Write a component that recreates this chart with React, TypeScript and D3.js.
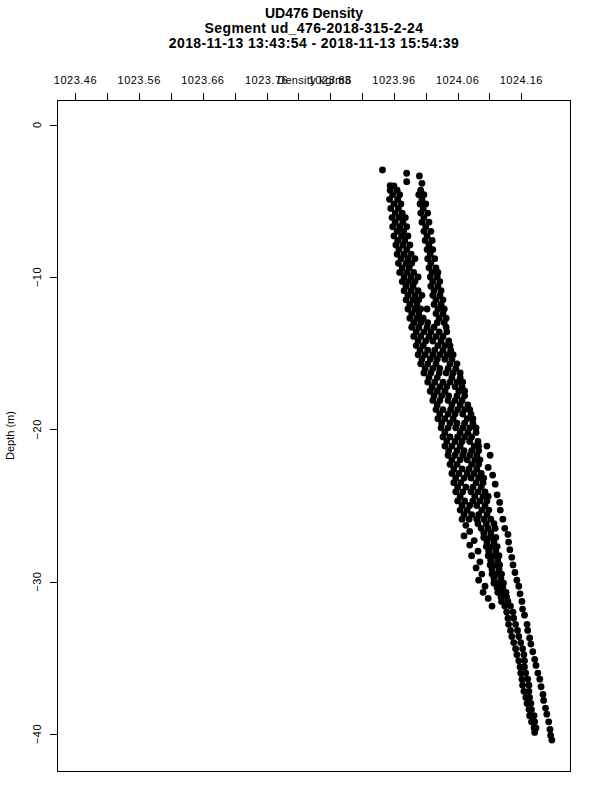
import React, { useEffect, useRef } from 'react'
import * as d3 from 'd3'

const titleLines = [
  'UD476 Density',
  'Segment ud_476-2018-315-2-24',
  '2018-11-13 13:43:54 - 2018-11-13 15:54:39',
]
const xAxisTitle = 'Density kg/m3'
const yAxisTitle = 'Depth (m)'

const xTickValues = [1023.46, 1023.51, 1023.56, 1023.61, 1023.66, 1023.71, 1023.76, 1023.81,
  1023.86, 1023.91, 1023.96, 1024.01, 1024.06, 1024.11, 1024.16]
const xLabelValues = [1023.46, 1023.56, 1023.66, 1023.76, 1023.86, 1023.96, 1024.06, 1024.16]
const yTickValues = [0, -10, -20, -30, -40]

// [depth, density]
const topPoints = [
  [-2.97, 1023.942], [-3.19, 1023.980], [-3.37, 1024.000], [-3.74, 1023.980],
  [-3.85, 1024.004], [-4.0, 1023.954], [-4.02, 1023.960],
]

// [depth, density, density, ...]
const upperRows = [
  [-4.3, 1023.954, 1023.965, 1024.002],
  [-4.6, 1023.958, 1023.969, 1023.999, 1024.007],
  [-4.9, 1023.953, 1023.966, 1024.004],
  [-5.2, 1023.960, 1023.971, 1024.001, 1024.010],
  [-5.5, 1023.955, 1023.967, 1024.006],
  [-5.8, 1023.962, 1023.973, 1024.002, 1024.013],
  [-6.1, 1023.957, 1023.968, 1023.978, 1024.007],
  [-6.4, 1023.962, 1023.974, 1024.004, 1024.015],
  [-6.7, 1023.958, 1023.969, 1023.980, 1024.010],
  [-7.0, 1023.965, 1023.975, 1024.007, 1024.018],
  [-7.3, 1023.960, 1023.972, 1023.982, 1024.012],
  [-7.6, 1023.966, 1023.977, 1024.009, 1024.020],
  [-7.9, 1023.963, 1023.974, 1023.985, 1024.015],
  [-8.2, 1023.968, 1023.980, 1024.012, 1024.021],
  [-8.5, 1023.965, 1023.976, 1023.987, 1024.017],
  [-8.8, 1023.971, 1023.982, 1023.993, 1024.013, 1024.024],
  [-9.1, 1023.967, 1023.979, 1023.988, 1024.018],
  [-9.4, 1023.973, 1023.984, 1024.015, 1024.026],
  [-9.7, 1023.969, 1023.980, 1023.991, 1024.020, 1024.029],
  [-10.0, 1023.976, 1023.987, 1023.998, 1024.017, 1024.028],
  [-10.3, 1023.973, 1023.983, 1023.993, 1024.021, 1024.032],
  [-10.6, 1023.979, 1023.990, 1024.018, 1024.029],
  [-10.9, 1023.976, 1023.987, 1023.998, 1024.023, 1024.034],
  [-11.2, 1023.982, 1023.993, 1024.004, 1024.021, 1024.032],
  [-11.5, 1023.979, 1023.990, 1023.999, 1024.026, 1024.037],
  [-11.8, 1023.985, 1023.996, 1024.023, 1024.034],
  [-12.1, 1023.982, 1023.993, 1024.002, 1024.012, 1024.029, 1024.039],
  [-12.4, 1023.988, 1023.999, 1024.026, 1024.037],
  [-12.7, 1023.985, 1023.996, 1024.006, 1024.031, 1024.042],
  [-13.0, 1023.991, 1024.002, 1024.013, 1024.028, 1024.039],
]

const middleRows = [
  [-13.3, 1023.988, 1023.999, 1024.012, 1024.023, 1024.042],
  [-13.6, 1023.995, 1024.007, 1024.018, 1024.031, 1024.043],
  [-13.9, 1023.991, 1024.002, 1024.015, 1024.026, 1024.037],
  [-14.2, 1023.998, 1024.010, 1024.021, 1024.034, 1024.046],
  [-14.5, 1023.995, 1024.006, 1024.029, 1024.040, 1024.048],
  [-14.8, 1024.001, 1024.013, 1024.024, 1024.037, 1024.049],
  [-15.1, 1023.998, 1024.009, 1024.021, 1024.032, 1024.043, 1024.053],
  [-15.4, 1024.004, 1024.017, 1024.028, 1024.040, 1024.051],
  [-15.7, 1024.002, 1024.013, 1024.026, 1024.048, 1024.059],
  [-16.0, 1024.009, 1024.021, 1024.032, 1024.045, 1024.057],
  [-16.3, 1024.007, 1024.018, 1024.031, 1024.042, 1024.053, 1024.064],
  [-16.6, 1024.015, 1024.028, 1024.051, 1024.064],
  [-16.9, 1024.013, 1024.024, 1024.037, 1024.048, 1024.059, 1024.068],
  [-17.2, 1024.020, 1024.032, 1024.043, 1024.056, 1024.067],
  [-17.5, 1024.017, 1024.028, 1024.040, 1024.062, 1024.071],
  [-17.8, 1024.023, 1024.035, 1024.046, 1024.059, 1024.071],
  [-18.1, 1024.021, 1024.032, 1024.045, 1024.056, 1024.067],
  [-18.4, 1024.028, 1024.051, 1024.064, 1024.076],
  [-18.7, 1024.026, 1024.037, 1024.049, 1024.060, 1024.071, 1024.079],
  [-19.0, 1024.032, 1024.045, 1024.056, 1024.068, 1024.081],
  [-19.3, 1024.029, 1024.040, 1024.053, 1024.075, 1024.084],
  [-19.6, 1024.035, 1024.048, 1024.059, 1024.071, 1024.084],
  [-19.9, 1024.034, 1024.045, 1024.057, 1024.068, 1024.079, 1024.089],
  [-20.2, 1024.040, 1024.064, 1024.076, 1024.089],
  [-20.5, 1024.037, 1024.048, 1024.060, 1024.071, 1024.082],
  [-20.8, 1024.043, 1024.056, 1024.067, 1024.079, 1024.092],
  [-21.1, 1024.040, 1024.051, 1024.064, 1024.086, 1024.093],
  [-21.4, 1024.046, 1024.059, 1024.070, 1024.082, 1024.093],
  [-21.7, 1024.045, 1024.056, 1024.068, 1024.079, 1024.090],
  [-22.0, 1024.051, 1024.064, 1024.075, 1024.087, 1024.095],
  [-22.3, 1024.048, 1024.059, 1024.082, 1024.093],
  [-22.6, 1024.054, 1024.067, 1024.078, 1024.090],
  [-22.9, 1024.051, 1024.062, 1024.075, 1024.086, 1024.097],
  [-23.2, 1024.057, 1024.070, 1024.081, 1024.093, 1024.101],
  [-23.5, 1024.054, 1024.065, 1024.089, 1024.100],
  [-23.8, 1024.060, 1024.073, 1024.084, 1024.097],
  [-24.1, 1024.057, 1024.068, 1024.081, 1024.092, 1024.103],
  [-24.4, 1024.064, 1024.087, 1024.100, 1024.108],
  [-24.7, 1024.060, 1024.071, 1024.084, 1024.095, 1024.106],
  [-25.0, 1024.067, 1024.079, 1024.090, 1024.103],
  [-25.3, 1024.064, 1024.075, 1024.098, 1024.109],
  [-25.6, 1024.070, 1024.082, 1024.093, 1024.106],
  [-25.9, 1024.067, 1024.078, 1024.090, 1024.101, 1024.112],
]

const lowerRows = [
  [-26.2, 1024.092, 1024.105, 1024.117],
  [-26.5, 1024.097, 1024.108, 1024.119],
  [-26.8, 1024.101, 1024.112],
  [-27.1, 1024.101, 1024.111, 1024.120],
  [-27.4, 1024.106, 1024.117],
  [-27.7, 1024.105, 1024.114, 1024.122],
  [-28.0, 1024.109, 1024.120],
  [-28.3, 1024.108, 1024.117, 1024.125],
  [-28.6, 1024.112, 1024.123],
  [-28.9, 1024.111, 1024.119, 1024.126],
  [-29.2, 1024.114, 1024.125],
  [-29.5, 1024.114, 1024.122, 1024.129],
  [-29.8, 1024.117, 1024.128],
  [-30.1, 1024.117, 1024.125, 1024.132],
  [-30.4, 1024.122, 1024.131],
  [-30.7, 1024.123, 1024.131, 1024.136],
  [-31.0, 1024.128, 1024.137],
  [-31.3, 1024.129, 1024.139],
]

const scatterLeft = [
  [-26.3, 1024.073], [-26.7, 1024.079], [-27.0, 1024.070], [-27.3, 1024.086],
  [-27.6, 1024.079], [-28.0, 1024.092], [-28.3, 1024.082], [-28.7, 1024.095],
  [-29.1, 1024.089], [-29.5, 1024.098], [-29.9, 1024.093], [-30.3, 1024.103],
  [-30.7, 1024.100], [-31.1, 1024.108], [-31.6, 1024.114],
]

const bottomRows = [
  [-31.6, 1024.134, 1024.143],
  [-32.0, 1024.137, 1024.147],
  [-32.4, 1024.139, 1024.148],
  [-32.8, 1024.140, 1024.151],
  [-33.2, 1024.143, 1024.154],
  [-33.6, 1024.145, 1024.156],
  [-34.0, 1024.148, 1024.159],
  [-34.4, 1024.151, 1024.162],
  [-34.8, 1024.153, 1024.164],
  [-35.2, 1024.156, 1024.165],
  [-35.6, 1024.158, 1024.165],
  [-36.0, 1024.159, 1024.167],
  [-36.4, 1024.161, 1024.170],
  [-36.8, 1024.162, 1024.172],
  [-37.2, 1024.164, 1024.172],
  [-37.6, 1024.167, 1024.173],
  [-38.0, 1024.169, 1024.175],
  [-38.4, 1024.172, 1024.176],
  [-38.8, 1024.173, 1024.180],
  [-39.2, 1024.176, 1024.181],
  [-39.6, 1024.180, 1024.183],
  [-39.9, 1024.181],
]

const outerTrace = [
  [-21.1, 1024.106], [-21.7, 1024.111], [-22.5, 1024.108], [-23.0, 1024.115],
  [-23.6, 1024.119], [-24.3, 1024.122], [-24.8, 1024.126], [-25.3, 1024.127],
  [-25.9, 1024.131], [-26.5, 1024.134], [-26.9, 1024.139], [-27.4, 1024.140],
  [-27.9, 1024.142], [-28.4, 1024.145], [-28.9, 1024.147], [-29.4, 1024.150],
  [-29.9, 1024.153], [-30.3, 1024.156], [-30.8, 1024.158], [-31.3, 1024.161],
  [-31.8, 1024.162], [-32.2, 1024.165], [-32.8, 1024.169], [-33.2, 1024.170],
  [-33.7, 1024.173], [-34.1, 1024.175], [-34.6, 1024.178], [-35.1, 1024.181],
  [-35.5, 1024.183], [-36.0, 1024.186], [-36.4, 1024.189], [-36.9, 1024.191],
  [-37.4, 1024.194], [-37.8, 1024.195], [-38.3, 1024.198], [-38.7, 1024.200],
  [-39.2, 1024.203], [-39.7, 1024.205], [-40.1, 1024.206], [-40.4, 1024.208],
]

function rowsToPoints(rows) {
  return rows.flatMap(r => r.slice(1).map(v => [r[0], v]))
}

export default function App() {
  const ref = useRef<SVGSVGElement>(null)

  useEffect(() => {
    const svg = d3.select(ref.current)
    svg.selectAll('*').remove()

    const font = '"Liberation Sans", Arial, Helvetica, sans-serif'
    const left = 57, right = 571, top = 100, bottom = 771

    const x = d3.scaleLinear().domain([1023.431, 1024.238]).range([left, right])
    const y = d3.scaleLinear().domain([1.62, -42.43]).range([top, bottom])

    svg.append('rect').attr('width', 600).attr('height', 800).attr('fill', '#fff')

    // titles
    const titleY = [18, 33, 48]
    svg.selectAll('text.title')
      .data(titleLines)
      .enter()
      .append('text')
      .attr('class', 'title')
      .attr('x', 314)
      .attr('y', (d, i) => titleY[i])
      .attr('text-anchor', 'middle')
      .attr('font-family', font)
      .attr('font-weight', 'bold')
      .attr('font-size', 14)
      .attr('letter-spacing', (d, i) => (i === 0 ? 0 : 0.4))
      .text(d => d)

    // points
    const points = [
      ...topPoints,
      ...rowsToPoints(upperRows),
      ...rowsToPoints(middleRows),
      ...rowsToPoints(lowerRows),
      ...scatterLeft,
      ...rowsToPoints(bottomRows),
      ...outerTrace,
    ]
    svg.append('g')
      .selectAll('circle')
      .data(points)
      .enter()
      .append('circle')
      .attr('cx', d => x(d[1]))
      .attr('cy', d => y(d[0]))
      .attr('r', 3.4)
      .attr('fill', '#000')

    // box
    svg.append('rect')
      .attr('x', left + 0.5)
      .attr('y', top + 0.5)
      .attr('width', right - left - 1)
      .attr('height', bottom - top)
      .attr('fill', 'none')
      .attr('stroke', '#000')
      .attr('stroke-width', 1)

    // top axis
    const xa = svg.append('g')
    xa.selectAll('line')
      .data(xTickValues)
      .enter()
      .append('line')
      .attr('x1', d => Math.round(x(d)) + 0.5)
      .attr('x2', d => Math.round(x(d)) + 0.5)
      .attr('y1', top)
      .attr('y2', top - 7)
      .attr('stroke', '#000')
    xa.selectAll('text')
      .data(xLabelValues)
      .enter()
      .append('text')
      .attr('x', d => x(d))
      .attr('y', 84)
      .attr('text-anchor', 'middle')
      .attr('font-family', font)
      .attr('font-size', 11)
      .attr('letter-spacing', 0.5)
      .text(d => d3.format('.2f')(d))
    svg.append('text')
      .attr('x', (left + right) / 2)
      .attr('y', 84)
      .attr('text-anchor', 'middle')
      .attr('font-family', font)
      .attr('font-size', 11)
      .attr('letter-spacing', 0.3)
      .text(xAxisTitle)

    // left axis
    const ya = svg.append('g')
    ya.selectAll('line')
      .data(yTickValues)
      .enter()
      .append('line')
      .attr('x1', left)
      .attr('x2', left - 7)
      .attr('y1', d => Math.round(y(d)) + 0.5)
      .attr('y2', d => Math.round(y(d)) + 0.5)
      .attr('stroke', '#000')
    ya.selectAll('text')
      .data(yTickValues)
      .enter()
      .append('text')
      .attr('transform', d => 'translate(41,' + y(d) + ') rotate(-90)')
      .attr('text-anchor', 'middle')
      .attr('font-family', font)
      .attr('font-size', 11)
      .attr('letter-spacing', 0.5)
      .text(d => d3.format('d')(d))
    svg.append('text')
      .attr('transform', 'translate(14,' + (top + bottom) / 2 + ') rotate(-90)')
      .attr('text-anchor', 'middle')
      .attr('font-family', font)
      .attr('font-size', 11)
      .text(yAxisTitle)
  }, [])

  return (
    <svg ref={ref} width={600} height={800}
      style={{ position: 'absolute', left: 0, top: 0, display: 'block' }} />
  )
}
